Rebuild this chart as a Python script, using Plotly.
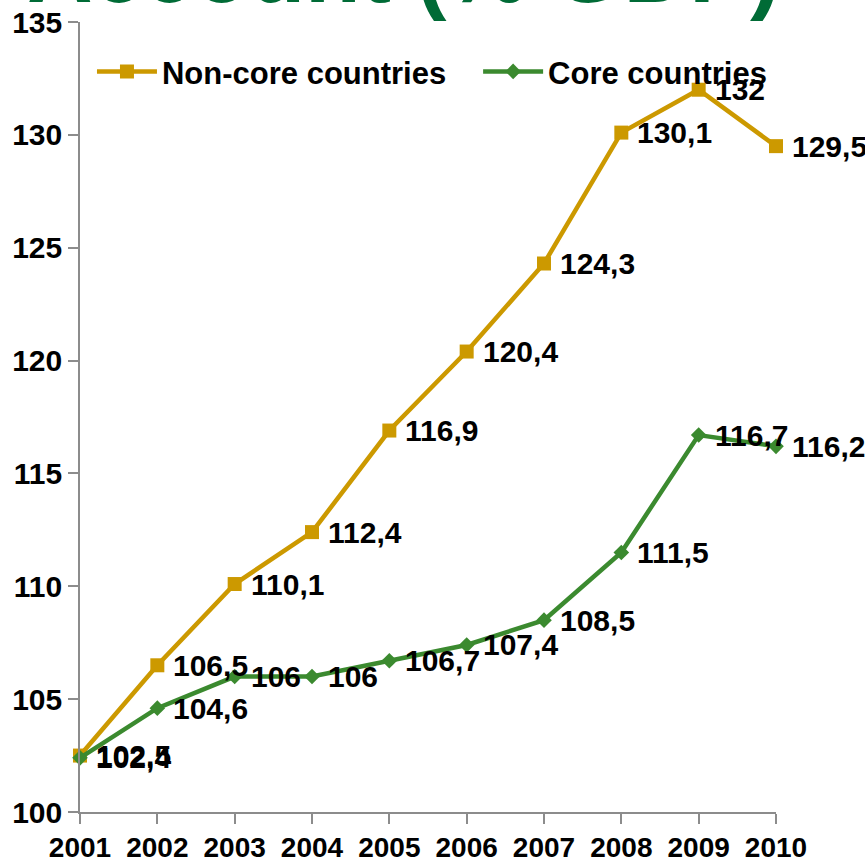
import plotly.graph_objects as go

# Index values by year
years = [2001, 2002, 2003, 2004, 2005, 2006, 2007, 2008, 2009, 2010]
non_core = [102.5, 106.5, 110.1, 112.4, 116.9, 120.4, 124.3, 130.1, 132.0, 129.5]
core = [102.4, 104.6, 106.0, 106.0, 106.7, 107.4, 108.5, 111.5, 116.7, 116.2]
y_ticks = [100, 105, 110, 115, 120, 125, 130, 135]
title_text = "Account (% GDP)"

GOLD = "#CC9900"
GREEN = "#3B8A2F"
TITLE_GREEN = "#006B36"
FONT = "Liberation Sans, Arial, sans-serif"


def fmt(v):
    # decimal comma, no trailing ",0"
    s = f"{v:.1f}".rstrip("0").rstrip(".")
    return s.replace(".", ",")


fig = go.Figure()
fig.add_trace(go.Scatter(
    x=years, y=non_core, name="Non-core countries",
    mode="lines+markers",
    line=dict(color=GOLD, width=4.5),
    marker=dict(symbol="square", size=14, color=GOLD),
    cliponaxis=False, legend="legend",
))
fig.add_trace(go.Scatter(
    x=years, y=core, name="Core countries",
    mode="lines+markers",
    line=dict(color=GREEN, width=4.5),
    marker=dict(symbol="diamond", size=12, color=GREEN),
    cliponaxis=False, legend="legend2",
))

# value labels to the right of each point
label_font = dict(family=FONT, size=30, color="black", weight="bold")
for series in (non_core, core):
    for x, v in zip(years, series):
        fig.add_annotation(
            x=x, y=v, xref="x", yref="y", text=fmt(v), showarrow=False,
            xanchor="left", yanchor="middle", xshift=14, font=label_font,
        )

fig.add_annotation(
    text=title_text, xref="paper", yref="paper", x=0.4648, y=1,
    xanchor="center", yanchor="bottom", yshift=-1, showarrow=False,
    font=dict(family=FONT, size=91, color=TITLE_GREEN, weight="bold"),
)

legend_common = dict(
    orientation="h", y=0.937, xanchor="left", yanchor="middle",
    font=dict(family=FONT, size=31, color="black", weight="bold"),
    itemwidth=60, bgcolor="rgba(0,0,0,0)",
)

fig.update_layout(
    width=865, height=863,
    margin=dict(l=80, r=89, t=22, b=51),
    paper_bgcolor="white", plot_bgcolor="white",
    font=dict(family=FONT, color="black"),
    showlegend=True,
    legend=dict(x=0.0172, **legend_common),
    legend2=dict(x=0.572, **legend_common),
    xaxis=dict(
        range=[2001, 2010], tickvals=years, ticktext=[str(y) for y in years],
        showgrid=False, zeroline=False, automargin=False,
        showline=True, linecolor="#8C8C8C", linewidth=1.5,
        ticks="outside", ticklen=10, tickcolor="#8C8C8C", tickwidth=1.5,
        tickfont=dict(family=FONT, size=28, color="black", weight="bold"),
    ),
    yaxis=dict(
        range=[100, 135], tickvals=y_ticks,
        showgrid=False, zeroline=False, automargin=False,
        showline=True, linecolor="#8C8C8C", linewidth=1.5,
        ticks="outside", ticklen=10, tickcolor="#8C8C8C", tickwidth=1.5,
        tickfont=dict(family=FONT, size=30, color="black", weight="bold"),
    ),
)

fig.write_html("out.html")
